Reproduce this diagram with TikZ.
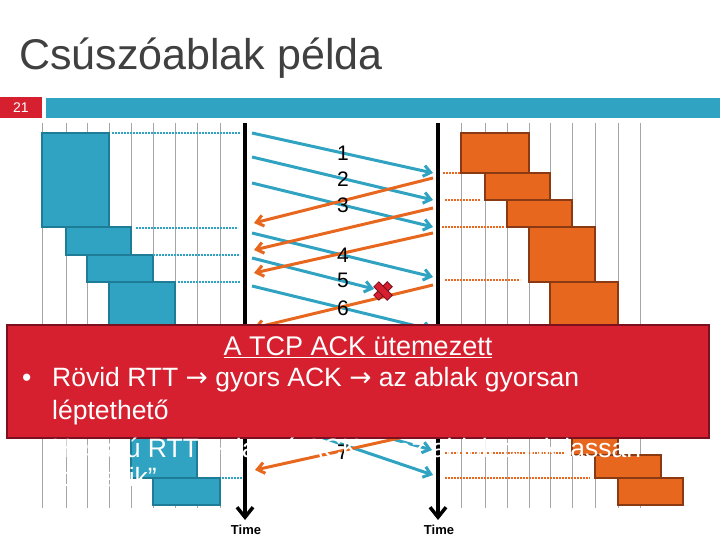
\documentclass[tikz,border=0pt]{standalone}
\usepackage{fontspec}
\setmainfont{Liberation Sans}
\newfontfamily\arrfont{DejaVu Sans}
\newcommand{\myarr}{{\arrfont →}}
\usetikzlibrary{arrows.meta}
\definecolor{cblue}{HTML}{2FA3C1}
\definecolor{cblueD}{HTML}{1E7C96}
\definecolor{corange}{HTML}{E8671E}
\definecolor{corangeD}{HTML}{8A3A12}
\definecolor{cred}{HTML}{D6202F}
\definecolor{credD}{HTML}{7A1020}
\definecolor{ctitle}{HTML}{404040}
\tikzset{
 grid/.style={gray!70,line width=0.5pt},
 bbox/.style={fill=cblue,draw=cblueD,line width=1.5pt},
 obox/.style={fill=corange,draw=corangeD,line width=1.5pt},
 bdot/.style={cblue,line width=2pt,dash pattern=on 2pt off 1pt},
 odot/.style={corange,line width=2pt,dash pattern=on 2pt off 1pt},
 data/.style={cblue,line width=3pt,-{Straight Barb[length=7pt,width=11pt]}},
 ack/.style={corange,line width=3pt,-{Straight Barb[length=7pt,width=11pt]}},
 num/.style={font=\fontsize{21}{21}\selectfont},
 timelbl/.style={font=\fontsize{13}{13}\selectfont\bfseries},
 wtxt/.style={text=white,anchor=west,font=\fontsize{26.5}{26.5}\selectfont,inner sep=0pt},
}
\begin{document}
\begin{tikzpicture}[x=1pt,y=-1pt]
\useasboundingbox (0,0) rectangle (720,540);
\fill[white] (0,0) rectangle (720,540);
\node[anchor=west,text=ctitle,font=\fontsize{43}{43}\selectfont,inner sep=0pt] (title) at (19,58) {Csúszóablak példa};
\fill[cred] (0,97) rectangle (42,118);
\node[text=white,font=\fontsize{14}{14}\selectfont] (pg) at (21,108) {21};
\fill[cblue] (46,98) rectangle (720,118);
% grids
\foreach \x in {42,66,87,109,131,153,175,197,220} \draw[grid] (\x,123) -- (\x,508);
\foreach \x in {461,485,507,529,550,572,595,618,640} \draw[grid] (\x,123) -- (\x,508);
% blue boxes
\draw[bbox] (42,133) rectangle (109,227);
\draw[bbox] (66,227) rectangle (131,255);
\draw[bbox] (87,255) rectangle (153,282);
\draw[bbox] (109,282) rectangle (175,360);
\draw[bbox] (131,360) rectangle (197,478);
\draw[bbox] (153,478) rectangle (220,505);
% orange boxes
\draw[obox] (461,133) rectangle (529,173);
\draw[obox] (485,173) rectangle (550,200);
\draw[obox] (507,200) rectangle (572,227);
\draw[obox] (529,227) rectangle (595,282);
\draw[obox] (550,282) rectangle (618,360);
\draw[obox] (572,360) rectangle (618,455);
\draw[obox] (595,455) rectangle (661,478);
\draw[obox] (618,478) rectangle (683,505);
% dotted
\draw[bdot] (112,133) -- (241,133);
\draw[bdot] (136,228) -- (238,228);
\draw[bdot] (153,255) -- (240,255);
\draw[bdot] (178,282) -- (240,282);
\draw[bdot] (222,478) -- (243,478);
\draw[odot] (443,173) -- (461,173);
\draw[odot] (445,200) -- (480,200);
\draw[odot] (442,227) -- (505,227);
\draw[odot] (445,280) -- (520,280);
\draw[odot] (445,453) -- (565,453);
\draw[odot] (445,478) -- (590,478);
% time lines
\coordinate (lt) at (245,123); \coordinate (lb) at (245,520);
\coordinate (rt) at (438,123); \coordinate (rb) at (438,520);
\draw[line width=3.5pt,-{Straight Barb[length=10pt,width=16pt]}] (lt) -- (lb);
\draw[line width=3.5pt,-{Straight Barb[length=10pt,width=16pt]}] (rt) -- (rb);
\node[timelbl] (t1) at (246,530) {Time};
\node[timelbl] (t2) at (439,530) {Time};
% data
\draw[data] (252,133) -- (433,173);
\draw[data] (252,157) -- (433,200);
\draw[data] (252,183) -- (433,227);
\draw[data] (252,233) -- (433,277);
\draw[data] (252,258) -- (374,289);
\draw[data] (252,286) -- (433,330);
\draw[data] (252,400) -- (432,450);
\draw[data] (300,430) -- (433,475);
% acks
\draw[ack] (433,178) -- (254,223);
\draw[ack] (433,208) -- (254,250);
\draw[ack] (433,233) -- (254,273);
\draw[ack] (433,285) -- (254,328);
\draw[ack] (422,433) -- (255,470);
% loss mark
\node[rotate=45,fill=cred,draw=credD,line width=0.8pt,minimum width=19pt,minimum height=7pt,inner sep=0pt] (xa) at (383,291) {};
\node[rotate=-45,fill=cred,draw=credD,line width=0.8pt,minimum width=19pt,minimum height=7pt,inner sep=0pt] (xb) at (383,291) {};
% numbers
\node[num] (n1) at (343,153) {1};
\node[num] (n2) at (343,179) {2};
\node[num] (n3) at (343,205) {3};
\node[num] (n4) at (343,255) {4};
\node[num] (n5) at (343,280) {5};
\node[num] (n6) at (343,308) {6};
\node[num] (n7) at (343,452) {7};
% red box
\draw[fill=cred,draw=credD,line width=1.5pt] (7,325) rectangle (709,438);
\node[text=white,font=\fontsize{27}{27}\selectfont] (hd) at (358,347) {\underline{A TCP ACK ütemezett}};
\node[wtxt] (bl) at (22,380) {•};
\node[wtxt] (l1) at (52,380) {Rövid RTT \myarr{} gyors ACK \myarr{} az ablak gyorsan};
\node[wtxt] (l2) at (52,412) {léptethető};
\node[wtxt] (l3) at (52,448) {Hosszú RTT \myarr{} lassú ACK \myarr{} az ablak csak lassan};
\node[wtxt] (l4) at (52,478) {„csúszik”};
\end{tikzpicture}
\end{document}
